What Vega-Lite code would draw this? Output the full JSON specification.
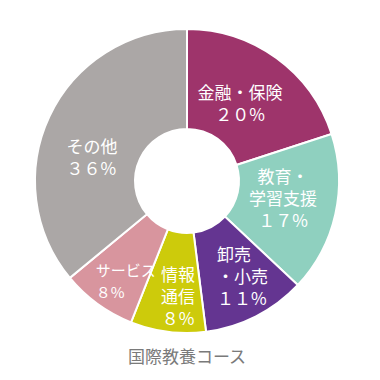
{
  "$schema": "https://vega.github.io/schema/vega-lite/v6.json",
  "width": 374,
  "height": 362,
  "autosize": "none",
  "padding": {"left": 0, "top": 0, "right": 6, "bottom": 18},
  "background": "white",
  "title": {
    "text": "国際教養コース",
    "orient": "bottom",
    "offset": -12,
    "fontSize": 17,
    "fontWeight": "normal",
    "color": "#7a7a7a",
    "font": "Noto Sans CJK JP"
  },
  "data": {
    "values": [
      {"cat": "金融・保険", "pct": 20, "ord": 1, "label": ["金融・保険", "２０%"]},
      {"cat": "教育・学習支援", "pct": 17, "ord": 2, "label": ["教育・", "学習支援", "１７%"]},
      {"cat": "卸売・小売", "pct": 11, "ord": 3, "label": ["卸売", "・小売", "１１%"]},
      {"cat": "情報通信", "pct": 8, "ord": 4, "label": ["情報", "通信", "８%"]},
      {"cat": "サービス", "pct": 8, "ord": 5, "label": ["サービス", "８%"]},
      {"cat": "その他", "pct": 36, "ord": 6, "label": ["その他", "３６%"]}
    ]
  },
  "transform": [
    {"stack": "pct", "groupby": [], "sort": [{"field": "ord", "order": "ascending"}], "as": ["s0", "s1"]}
  ],
  "encoding": {
    "theta": {"field": "s0", "type": "quantitative", "scale": {"domain": [0, 100]}},
    "text": {"field": "label"}
  },
  "layer": [
    {
      "mark": {"type": "arc", "outerRadius": 152, "innerRadius": 52, "stroke": "white", "strokeWidth": 2},
      "encoding": {
        "theta2": {"field": "s1"},
        "color": {
          "field": "cat",
          "type": "nominal",
          "legend": null,
          "scale": {
            "domain": ["金融・保険", "教育・学習支援", "卸売・小売", "情報通信", "サービス", "その他"],
            "range": ["#9e346b", "#8fd0bf", "#643591", "#cdcb0b", "#d8959e", "#aba7a6"]
          }
        },
        "text": null
      }
    },
    {
      "transform": [{"filter": "datum.cat === '金融・保険'"}],
      "mark": {"type": "text", "radius": 95, "thetaOffset": 0.593, "dy": -8, "fontSize": 17, "lineHeight": 22, "color": "white", "align": "center", "baseline": "middle", "font": "Noto Sans CJK JP"}
    },
    {
      "transform": [{"filter": "datum.cat === '教育・学習支援'"}],
      "mark": {"type": "text", "radius": 97, "thetaOffset": 0.449, "dy": -16, "fontSize": 17, "lineHeight": 22, "color": "white", "align": "center", "baseline": "middle", "font": "Noto Sans CJK JP"}
    },
    {
      "transform": [{"filter": "datum.cat === '卸売・小売'"}],
      "mark": {"type": "text", "radius": 97, "thetaOffset": 0.503, "dy": -17, "fontSize": 17, "lineHeight": 22, "color": "white", "align": "left", "baseline": "middle", "font": "Noto Sans CJK JP"}
    },
    {
      "transform": [{"filter": "datum.cat === '情報通信'"}],
      "mark": {"type": "text", "radius": 114, "thetaOffset": 0.204, "dy": -19, "fontSize": 17, "lineHeight": 22, "color": "white", "align": "center", "baseline": "middle", "font": "Noto Sans CJK JP"}
    },
    {
      "transform": [{"filter": "datum.cat === 'サービス'"}],
      "mark": {"type": "text", "radius": 134, "thetaOffset": 0.372, "dy": -8, "fontSize": 15, "lineHeight": 22, "color": "white", "align": "left", "baseline": "middle", "font": "Noto Sans CJK JP"}
    },
    {
      "transform": [{"filter": "datum.cat === 'その他'"}],
      "mark": {"type": "text", "radius": 123, "thetaOffset": 0.897, "dy": -8, "fontSize": 17, "lineHeight": 22, "color": "white", "align": "left", "baseline": "middle", "font": "Noto Sans CJK JP"}
    }
  ],
  "config": {"view": {"stroke": null}}
}
